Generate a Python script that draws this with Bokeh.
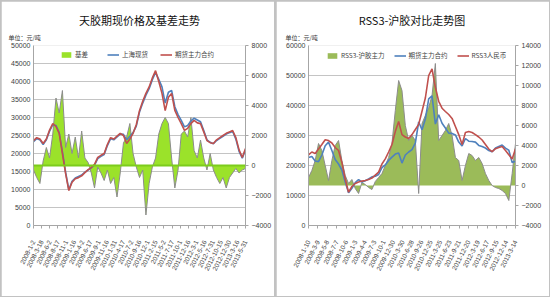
from bokeh.plotting import figure
from bokeh.models import Range1d, LinearAxis, FixedTicker, Legend, LegendItem, Span, Title
from bokeh.layouts import row, column
from bokeh.embed import file_html
from bokeh.resources import INLINE

# ---------------- left chart data ----------------
left_title = "天胶期现价格及基差走势"
unit_text = "单位：元/吨"
left_dates = ["2008-1-2", "2008-3-18", "2008-6-2", "2008-8-17", "2008-11-1", "2009-1-16",
              "2009-4-2", "2009-6-17", "2009-9-1", "2009-11-16", "2010-1-31", "2010-4-17",
              "2010-7-2", "2010-9-16", "2010-12-1", "2011-2-15", "2011-5-2", "2011-7-17",
              "2011-10-1", "2011-12-16", "2012-3-1", "2012-5-16", "2012-7-31", "2012-10-15",
              "2012-12-30", "2013-3-16", "2013-5-31"]
left_futures = [23600, 24400, 24000, 22800, 24000, 26500, 28300, 27500, 25600, 20000,
                14400, 9700, 12000, 13000, 13300, 13800, 14700, 15500, 16100, 17000,
                18900, 19500, 20000, 22500, 24400, 24000, 24800, 25600, 25000, 22800,
                24000, 25600, 28000, 31900, 34500, 36700, 38500, 41000, 43000, 40000,
                36700, 31900, 35600, 36700, 32000, 30000, 28300, 26400, 27000, 28300,
                29200, 28500, 28300, 26000, 23600, 23000, 22800, 23800, 24400, 25000,
                25600, 26000, 26400, 24400, 21000, 18900, 21400]
left_spot = [23300, 24100, 23800, 22500, 23800, 26200, 28000, 27800, 25800, 20500,
             14800, 9900, 12300, 13200, 13600, 14000, 14800, 15400, 16000, 16800,
             18600, 19200, 19700, 22200, 24100, 23800, 24600, 25400, 25300, 23800,
             24800, 25800, 27600, 31500, 34000, 36200, 38000, 40500, 42500, 40600,
             38500, 34000, 37000, 37500, 33000, 30800, 29200, 27400, 27800, 29000,
             29800, 29300, 28800, 26400, 23800, 23100, 22700, 23600, 24200, 24800,
             25400, 25800, 26100, 24000, 20600, 18700, 21000]
left_basis = [-300, -800, -1200, 300, 1200, 500, 2100, 4500, 3500, 5000,
              1200, 2100, 800, 1900, 500, 2300, 500, 200, -500, -1500,
              -100, -500, -1000, -300, -1200, -800, -2100, -500, 1500, 1900,
              2800, 800, -100, -800, -300, -3300, -1200, -100, 500, 2100,
              2800, 3200, 2800, 500, -1500, -300, 2100, 2300, 1900, 3200,
              1000, 500, 1700, 500, -300, 800, -300, -800, -1200, -800,
              -1500, -800, -500, -200, -500, -300, -200]
left_ticks = [0, 5000, 10000, 15000, 20000, 25000, 30000, 35000, 40000, 45000, 50000]
left_right_ticks = [-4000, -2000, 0, 2000, 4000, 6000, 8000]
left_legend = ["基差", "上海现货", "期货主力合约"]

# ---------------- right chart data ----------------
right_title = "RSS3-沪胶对比走势图"
right_dates = ["2008-1-10", "2008-3-9", "2008-5-8", "2008-7-7", "2008-10-6", "2009-1-3",
               "2009-4-4", "2009-7-3", "2009-10-1", "2009-12-30", "2010-3-30", "2010-6-28",
               "2010-9-26", "2010-12-25", "2011-3-25", "2011-6-23", "2011-9-21", "2011-12-20",
               "2012-3-19", "2012-6-17", "2012-9-15", "2012-12-14", "2013-3-14"]
right_rss3_rmb = [23500, 24500, 24000, 25500, 27000, 28600, 28300, 27500, 26000, 25000,
                  21000, 15500, 11100, 13000, 14000, 14500, 14800, 15000, 15300, 15800,
                  16800, 17800, 20500, 22200, 24500, 27000, 31300, 34700, 30300, 29500,
                  29000, 30300, 32000, 33700, 38100, 42500, 50000, 52200, 46000, 41400,
                  39100, 38000, 37000, 35700, 33000, 30300, 27000, 31000, 31300, 31000,
                  30300, 29500, 28500, 27000, 25500, 24600, 25600, 26000, 26300, 25000,
                  23600, 22200, 25600]
right_shfe = [22700, 23000, 21500, 21300, 23500, 26600, 27800, 25000, 22000, 20500,
              18500, 14500, 10900, 12400, 14300, 15300, 14500, 14900, 15500, 16200,
              16400, 17000, 19300, 20200, 21700, 22800, 23800, 24200, 20800, 23500,
              24500, 25300, 27500, 34500, 31900, 35500, 42200, 43200, 33800, 36900,
              34100, 32500, 30800, 30700, 30200, 27800, 26500, 29000, 28100, 28000,
              27800, 26700, 26300, 25800, 25000, 24600, 25800, 26300, 26800, 25800,
              25100, 21000, 21400]
right_spread = [800, 1500, 2500, 4200, 3500, 2000, 500, 2500, 4000, 4500,
                2500, 1000, 200, 600, -300, -800, 300, 100, -200, -400,
                400, 800, 1200, 2000, 2800, 4200, 7500, 10500, 9500, 6000,
                4500, 5000, 4500, -800, 6200, 7000, 7800, 9000, 12200, 4500,
                5000, 5500, 6200, 5000, 2800, 2500, 500, 2000, 3200, 3000,
                2500, 2800, 2200, 1200, 500, 0, -200, -300, -500, -800,
                -1500, 1200, 4200]
right_ticks = [0, 10000, 20000, 30000, 40000, 50000, 60000]
right_right_ticks = [-4000, -2000, 0, 2000, 4000, 6000, 8000, 10000, 12000, 14000]
right_legend = ["RSS3-沪胶主力", "期货主力合约", "RSS3人民币"]

CJK = "Noto Sans CJK SC"
NUM = "Liberation Sans"
RED = "#c0504d"
BLUE = "#4f81bd"


def style_axis(ax, tick_out=0):
    ax.axis_line_color = "#a6a6a6"
    ax.major_tick_line_color = "#a6a6a6"
    ax.major_tick_out = tick_out
    ax.major_tick_in = 0
    ax.minor_tick_line_color = None
    ax.major_label_text_font = NUM
    ax.major_label_text_font_size = "7px"
    ax.major_label_text_color = "#404040"
    ax.major_label_standoff = 3


def make_panel(dates, n_pts, y_max, y_ticks, r_range, r_ticks, border_right,
               title, title_offset, unit_offset):
    nt = len(dates)
    p = figure(width=273, height=295, x_range=Range1d(0, nt - 1), y_range=Range1d(0, y_max),
               output_backend="svg", toolbar_location=None,
               min_border_left=32, min_border_right=border_right,
               min_border_top=44, min_border_bottom=71, margin=(1, 1, 1, 1))
    p.title = Title(text=title, align="center", offset=title_offset, standoff=0,
                    text_font=CJK, text_font_size="11px", text_font_style="normal",
                    text_color="#111111")
    p.add_layout(Title(text=unit_text, align="left", offset=unit_offset, standoff=7,
                       text_font=CJK, text_font_size="6px", text_font_style="normal",
                       text_color="#333333"), "above")
    p.outline_line_color = None
    p.background_fill_color = "white"
    p.border_fill_color = "white"
    p.xgrid.visible = False
    p.ygrid.grid_line_color = "#c4c4c4"
    p.ygrid.ticker = FixedTicker(ticks=y_ticks)
    p.yaxis.ticker = FixedTicker(ticks=y_ticks)
    style_axis(p.yaxis[0], tick_out=0)
    xa = p.xaxis[0]
    xa.ticker = FixedTicker(ticks=list(range(nt)))
    xa.major_label_overrides = {i: d for i, d in enumerate(dates)}
    style_axis(xa, tick_out=3)
    xa.major_label_orientation = 1.1
    xa.major_label_standoff = 12
    xa.major_label_text_font_size = "6.5px"
    p.extra_y_ranges = {"b": Range1d(*r_range)}
    ra = LinearAxis(y_range_name="b", ticker=FixedTicker(ticks=r_ticks))
    style_axis(ra, tick_out=3)
    p.add_layout(ra, "right")
    xs = [i * (nt - 1) / (n_pts - 1) for i in range(n_pts)]
    return p, xs


# ---------------- left panel ----------------
p1, x1 = make_panel(left_dates, len(left_futures), 50000, left_ticks, (-4000, 8000),
                    left_right_ticks, 22, left_title, -8, -25)
g1 = p1.varea(x=x1, y1=0, y2=left_basis, y_range_name="b", fill_color="#9be22a")
p1.line(x1, left_basis, y_range_name="b", line_color="#8c8c8c", line_width=1)
p1.add_layout(Span(location=0, dimension="width", y_range_name="b", line_color="#7ccc1c", line_width=2))
b1 = p1.line(x1, left_spot, line_color=BLUE, line_width=1.6)
r1 = p1.line(x1, left_futures, line_color=RED, line_width=1.6)
leg1 = Legend(items=[LegendItem(label=left_legend[0], renderers=[g1]),
                     LegendItem(label=left_legend[1], renderers=[b1]),
                     LegendItem(label=left_legend[2], renderers=[r1])],
              orientation="horizontal", location=(27, 166), spacing=12, padding=0, margin=0,
              glyph_width=12, glyph_height=7, label_standoff=3,
              label_text_font=CJK, label_text_font_size="6.5px", label_height=8,
              border_line_color=None, background_fill_alpha=0)
p1.add_layout(leg1)

# ---------------- right panel ----------------
p2, x2 = make_panel(right_dates, len(right_rss3_rmb), 60000, right_ticks, (-4000, 14000),
                    right_right_ticks, 34, right_title, 2, -23)
g2 = p2.varea(x=x2, y1=0, y2=right_spread, y_range_name="b", fill_color="#9bbb59")
p2.line(x2, right_spread, y_range_name="b", line_color="#8c8c8c", line_width=1)
b2 = p2.line(x2, right_shfe, line_color=BLUE, line_width=1.6)
r2 = p2.line(x2, right_rss3_rmb, line_color=RED, line_width=1.6)
leg2 = Legend(items=[LegendItem(label=right_legend[0], renderers=[g2]),
                     LegendItem(label=right_legend[1], renderers=[b2]),
                     LegendItem(label=right_legend[2], renderers=[r2])],
              orientation="horizontal", location=(18, 165), spacing=9, padding=0, margin=0,
              glyph_width=12, glyph_height=7, label_standoff=3,
              label_text_font=CJK, label_text_font_size="6.5px", label_height=8,
              border_line_color=None, background_fill_alpha=0)
p2.add_layout(leg2)

band = figure(width=550, height=3, output_backend="svg", toolbar_location=None,
              min_border=0, x_range=Range1d(0, 1), y_range=Range1d(0, 1))
band.axis.visible = False
band.grid.visible = False
band.outline_line_color = None
band.background_fill_color = "#1f2b47"
band.border_fill_color = "#1f2b47"

panels = row(p1, p2, styles={"background-color": "#c2c2c2"})
layout = column(panels, band)
open("out.html", "w").write(file_html(layout, INLINE))
